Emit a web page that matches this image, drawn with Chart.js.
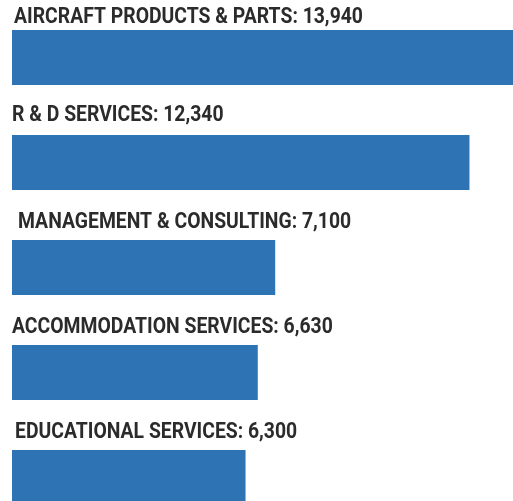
<!DOCTYPE html>
<html>
<head>
<meta charset="utf-8">
<script src="https://cdn.jsdelivr.net/npm/chart.js@4"></script>
<style>
  html, body { margin: 0; padding: 0; background: #fff; overflow: hidden; }
  #wrap { position: relative; width: 540px; height: 530px; }
</style>
</head>
<body>
<div id="wrap"><canvas id="chart"></canvas></div>
<script>
const categories = [
  "AIRCRAFT PRODUCTS & PARTS",
  "R & D SERVICES",
  "MANAGEMENT & CONSULTING",
  "ACCOMMODATION SERVICES",
  "EDUCATIONAL SERVICES"
];
const values = [13940, 12340, 7100, 6630, 6300];

// small per-label nudges, the original labels are not perfectly aligned
const labelDx = [2, 0, 6, 0, 3];
const labelGap = [7, 14, 12, 12, 12];

const labelsAbove = {
  id: "labelsAbove",
  afterDatasetsDraw(chart) {
    const ctx = chart.ctx;
    const meta = chart.getDatasetMeta(0);
    ctx.save();
    ctx.fillStyle = "#2b2b2b";
    ctx.font = "bold 22px Roboto";
    ctx.textBaseline = "alphabetic";
    meta.data.forEach((bar, i) => {
      const txt = categories[i] + ": " + values[i].toLocaleString("en-US");
      const top = bar.y - bar.height / 2;
      ctx.save();
      ctx.translate(bar.base + labelDx[i], top - labelGap[i]);
      ctx.scale(0.88, 1);
      ctx.fillText(txt, 0, 0);
      ctx.restore();
    });
    ctx.restore();
  }
};

new Chart(document.getElementById("chart"), {
  type: "bar",
  data: {
    labels: categories,
    datasets: [{
      data: values,
      backgroundColor: "#2e74b5",
      borderWidth: 0,
      categoryPercentage: 1,
      barPercentage: 0.524
    }]
  },
  options: {
    indexAxis: "y",
    responsive: true,
    maintainAspectRatio: false,
    animation: false,
    layout: { padding: { left: 12, right: 9, top: 5, bottom: 0 } },
    plugins: { legend: { display: false }, tooltip: { enabled: false } },
    scales: {
      x: { display: false, min: 0, max: 14000 },
      y: { display: false }
    }
  },
  plugins: [labelsAbove]
});
</script>
</body>
</html>
